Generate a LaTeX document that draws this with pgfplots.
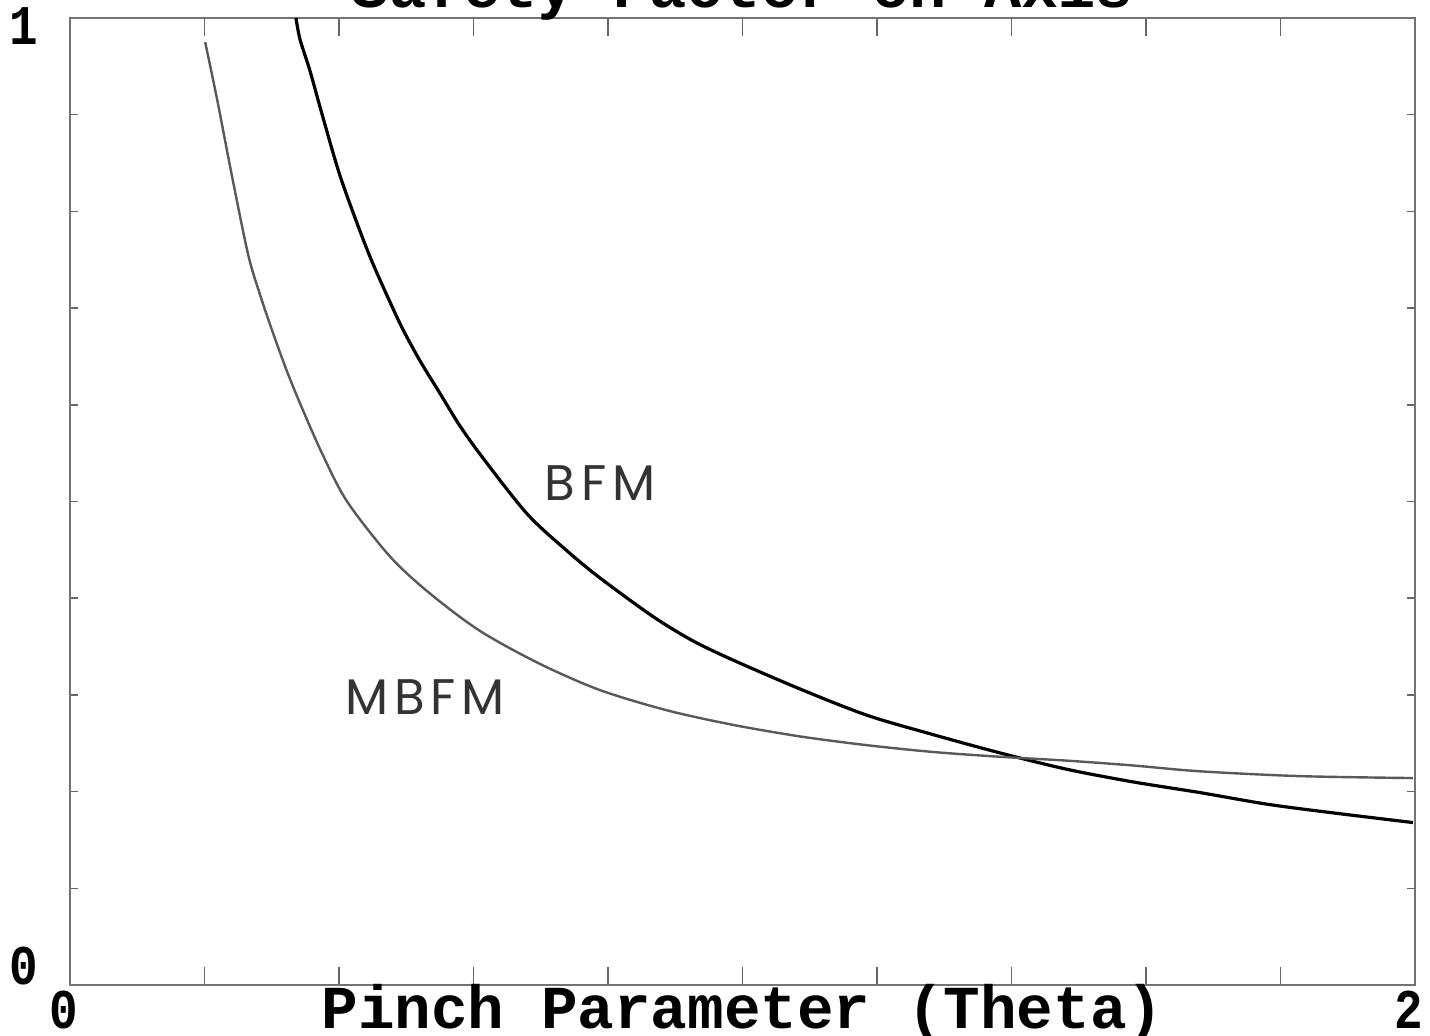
\documentclass[border=0pt]{standalone}
\usepackage{fontspec}
\usepackage{graphicx}
\usepackage{pgfplots}
\pgfplotsset{compat=1.18}
\newfontfamily\pix{Liberation Mono}
\newfontfamily\hand[LetterSpace=12]{Poppins}
\begin{document}
\begin{tikzpicture}
\begin{axis}[name=ax, scale only axis, width=672.5pt, height=483.5pt,
 xmin=0, xmax=2, ymin=0, ymax=1,
 axis line style={draw=black!55, line width=0.9pt},
 xtick={0,0.2,0.4,0.6,0.8,1.0,1.2,1.4,1.6,1.8,2.0},
 xticklabels={\scalebox{0.85}[1]{0},,,,,,,,,,\scalebox{0.85}[1]{2}},
 ytick={0,1}, yticklabels={\raisebox{0.5pt}{\scalebox{0.85}[1]{0}},\raisebox{-13.5pt}{\scalebox{0.85}[1]{1}}},
 minor ytick={0.1,0.2,0.3,0.4,0.5,0.6,0.7,0.8,0.9},
 minor tick length=4pt, major tick length=9pt,
 tick style={black!60, line width=0.8pt},
 tick align=inside,
 ticklabel style={font=\pix\bfseries\fontsize{28}{28}\selectfont},
 xticklabel style={inner sep=0pt, anchor=base, yshift=-21.5pt, xshift=-3pt},
 yticklabel style={inner sep=0pt, anchor=base east, xshift=-16pt},
 xlabel={Pinch Parameter (Theta)},
 xlabel style={font=\pix\bfseries\fontsize{30.5}{30.5}\selectfont, at={(axis description cs:0.5,0)}, anchor=base, yshift=-21.5pt, inner sep=0pt},
 clip=false,
]
\addplot[black, line width=1.6pt, smooth] coordinates {
(0.336,1.000) (0.342,0.978) (0.357,0.945) (0.375,0.900) (0.401,0.838)
(0.431,0.780) (0.451,0.745) (0.476,0.706) (0.495,0.678) (0.520,0.646)
(0.550,0.612) (0.580,0.578) (0.614,0.545) (0.680,0.487) (0.739,0.449)
(0.788,0.421) (0.867,0.381) (0.926,0.356) (0.986,0.336) (1.086,0.306)
(1.185,0.279) (1.283,0.259) (1.383,0.240) (1.483,0.223) (1.581,0.210)
(1.680,0.199) (1.780,0.187) (1.878,0.178) (1.997,0.168)
};
\addplot[black!65, line width=1.2pt, smooth] coordinates {
(0.201,0.975) (0.219,0.915) (0.241,0.836) (0.265,0.755) (0.283,0.713)
(0.302,0.674) (0.323,0.634) (0.346,0.595) (0.376,0.548) (0.412,0.500)
(0.476,0.443) (0.535,0.405) (0.610,0.366) (0.699,0.332) (0.788,0.305)
(0.888,0.284) (0.986,0.269) (1.086,0.257) (1.185,0.248) (1.283,0.241)
(1.383,0.236) (1.483,0.232) (1.581,0.227) (1.680,0.221) (1.829,0.216)
(1.997,0.214)
};
\node[font=\hand\fontsize{25}{25}\selectfont, text=black!80] at (axis cs:0.788,0.519) {BFM};
\node[font=\hand\fontsize{25}{25}\selectfont, text=black!80] at (axis cs:0.528,0.298) {MBFM};
\end{axis}
\node[anchor=base, inner sep=0pt, font=\pix\bfseries\fontsize{31}{31}\selectfont] at ([yshift=5pt]ax.north) {Safety Factor on Axis};
\pgfresetboundingbox
\path[use as bounding box] (ax.south west) ++(-35pt,-25pt) rectangle ++(715pt,517.5pt);
\end{tikzpicture}
\end{document}
